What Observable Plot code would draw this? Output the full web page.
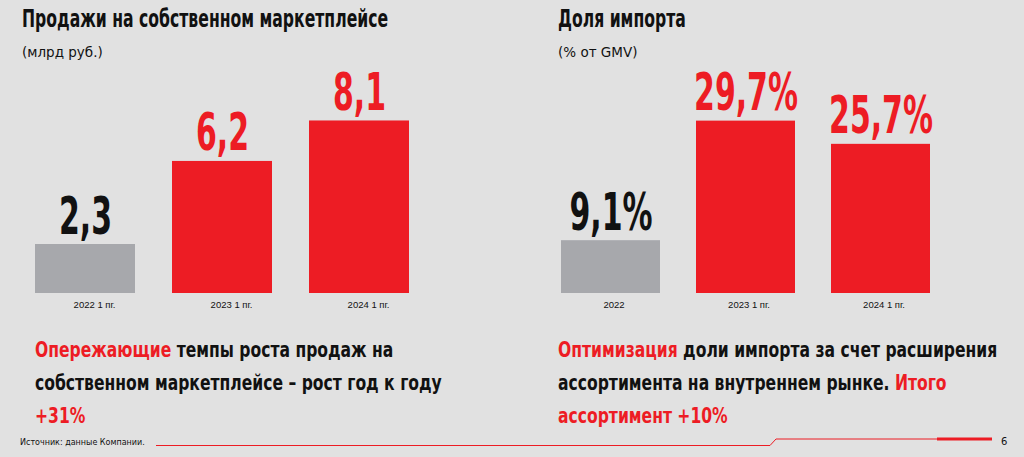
<!DOCTYPE html>
<html><head><meta charset="utf-8">
<script src="https://cdn.jsdelivr.net/npm/d3@7"></script>
<script src="https://cdn.jsdelivr.net/npm/@observablehq/plot@0.6"></script>
<style>
body{margin:0;background:#e1e1e1;}
#page{position:relative;width:1024px;height:457px;overflow:hidden;background:#e1e1e1;font-family:"Liberation Sans",sans-serif;color:#111;}
.cond{font-family:"Liberation Sans Narrow","DejaVu Sans Condensed","Roboto",sans-serif;font-weight:bold;font-stretch:condensed;}
.title{position:absolute;top:4px;font-size:24.5px;white-space:nowrap;transform:scaleX(0.71);transform-origin:left top;}
.sub{position:absolute;top:44px;font-family:"DejaVu Sans",sans-serif;font-size:13.5px;white-space:nowrap;}
.note{position:absolute;top:334px;font-size:21px;line-height:33px;white-space:nowrap;transform:scaleX(0.825);transform-origin:left top;}
.red{color:#ed1c24}
.chart{position:absolute;top:60px}
.src{position:absolute;left:20px;top:438px;font-family:"DejaVu Sans",sans-serif;font-size:8px;white-space:nowrap}
.pg{position:absolute;left:1001px;top:436px;font-family:"DejaVu Sans",sans-serif;font-size:10px;}
#deco{position:absolute;left:0;top:0}
</style></head>
<body><div id="page">
<div class="title cond" style="left:22px">Продажи на собственном маркетплейсе</div>
<div class="sub" style="left:22px">(млрд руб.)</div>
<div class="title cond" style="left:558px">Доля импорта</div>
<div class="sub" style="left:558px">(% от GMV)</div>
<div id="left" class="chart" style="left:0px"></div>
<div id="right" class="chart" style="left:520px"></div>
<div class="note cond" style="left:35px"><span class="red">Опережающие</span> темпы роста продаж на<br>собственном маркетплейсе – рост год к году<br><span class="red">+31%</span></div>
<div class="note cond" style="left:558px"><span class="red">Оптимизация</span> доли импорта за счет расширения<br>ассортимента на внутреннем рынке. <span class="red">Итого</span><br><span class="red">ассортимент +10%</span></div>
<div class="src">Источник: данные Компании.</div>
<svg id="deco" width="1024" height="457"><path d="M156,445.5H770L776,439H992" fill="none" stroke="#ed1c24" stroke-width="1"/><path d="M937,439H992" stroke="#ed1c24" stroke-width="3"/></svg>
<div class="pg">6</div>
</div>
<script>
const leftCats = ["2022 1 пг.", "2023 1 пг.", "2024 1 пг."];
const leftValues = [2.3, 6.2, 8.1];
const leftLabels = ["2,3", "6,2", "8,1"];
const rightCats = ["2022", "2023 1 пг.", "2024 1 пг."];
const rightValues = [9.1, 29.7, 25.7];
const rightLabels = ["9,1%", "29,7%", "25,7%"];
const barKind = ["prior", "current", "current"];

const condFont = '"Liberation Sans Narrow","DejaVu Sans Condensed","Roboto",sans-serif';

function chart(cats, vals, labels, o) {
  const data = cats.map((c, i) => ({cat: c, v: vals[i], label: labels[i], kind: barKind[i]}));
  return Plot.plot({
    width: o.width, height: 260,
    marginTop: 20, marginBottom: 27, marginLeft: o.ml, marginRight: o.mr,
    style: {background: "transparent", overflow: "visible"},
    x: {domain: cats, paddingInner: o.pad, paddingOuter: 0, axis: null},
    y: {domain: [0, o.ymax], axis: null},
    color: {domain: ["prior", "current"], range: ["#a7a8ac", "#ed1c24"]},
    marks: [
      Plot.barY(data, {x: "cat", y: "v", fill: "kind"}),
      Plot.text(data.filter(d => d.kind === "prior"), {x: "cat", y: "v", text: "label", fill: "#111", dy: -11, lineAnchor: "bottom", fontSize: 52, fontWeight: "bold", fontFamily: condFont}),
      Plot.text(data.filter(d => d.kind !== "prior"), {x: "cat", y: "v", text: "label", fill: "#ed1c24", dy: -11, lineAnchor: "bottom", fontSize: 52, fontWeight: "bold", fontFamily: condFont}),
      Plot.axisX({tickSize: 0, tickPadding: 8, fontSize: 9.5, label: null, fill: "#111", dx: o.tdx, fontFamily: '"Liberation Sans",sans-serif'})
    ]
  });
}
function squeeze(svg) {
  svg.querySelectorAll('g[aria-label="text"] text').forEach(t => {
    const tr = t.getAttribute("transform") || "";
    t.setAttribute("transform", tr + " scale(0.64,1)");
  });
}
const L = chart(leftCats, leftValues, leftLabels, {width: 460, ml: 34, mr: 51, pad: 0.2727, ymax: 10, tdx: 9});
const R = chart(rightCats, rightValues, rightLabels, {width: 471, ml: 41, mr: 60, pad: 0.2657, ymax: 36.7, tdx: 3});
document.getElementById("left").append(L);
document.getElementById("right").append(R);
squeeze(L); squeeze(R);
</script>
</body></html>
